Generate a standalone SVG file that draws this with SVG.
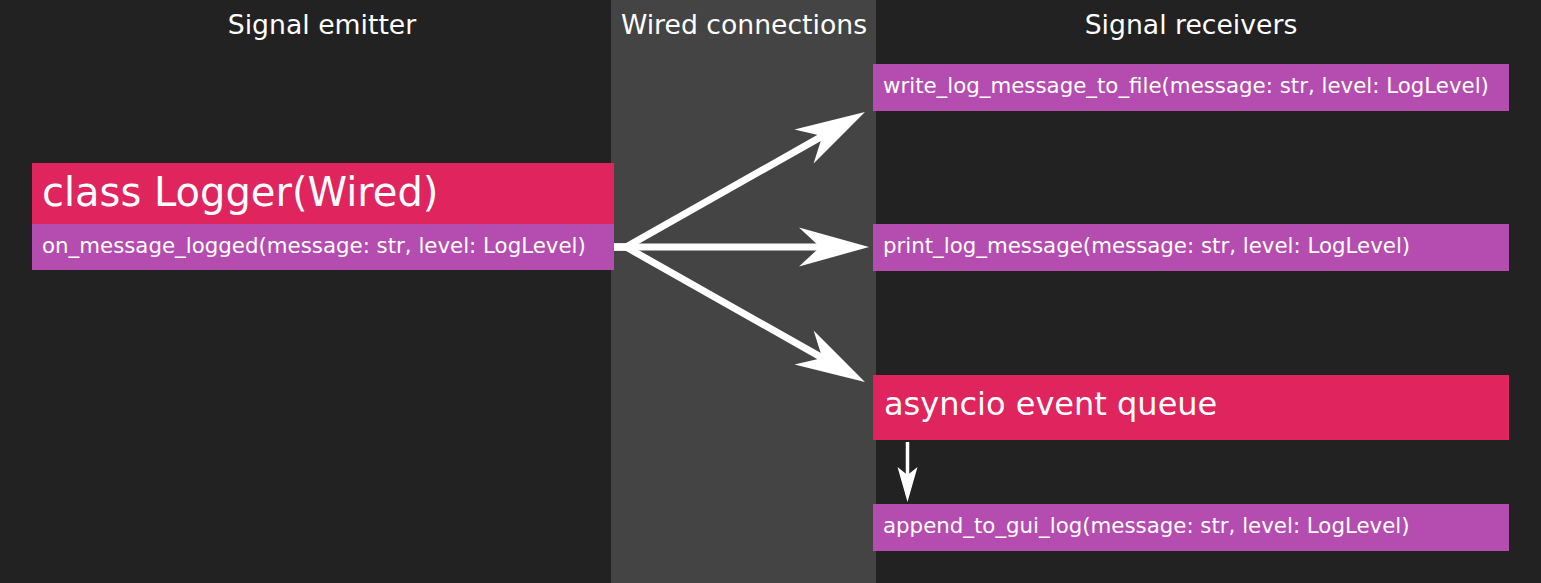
<svg xmlns="http://www.w3.org/2000/svg" width="1541" height="583" viewBox="0 0 1541 583">
  <style>
    text { font-family: "DejaVu Sans", "Liberation Sans", sans-serif; fill: #ffffff; }
    .title { font-size: 26.67px; text-anchor: middle; }
    .method { font-size: 21.33px; }
    .header { fill: #e0245e; }
    .slot { fill: #b54db0; }
    .wire { stroke: #ffffff; fill: none; }
  </style>
  <defs>
    <marker id="big" markerUnits="userSpaceOnUse" orient="auto" refX="0" refY="0" markerWidth="1" markerHeight="1" overflow="visible">
      <path d="M49,0 L-21,-19.5 L0,0 L-21,19.5 Z" fill="#ffffff"/>
    </marker>
    <marker id="small" markerUnits="userSpaceOnUse" orient="auto" refX="0" refY="0" markerWidth="1" markerHeight="1" overflow="visible">
      <path d="M27,0 L-8,-10 L0,0 L-8,10 Z" fill="#ffffff"/>
    </marker>
  </defs>

  <rect x="0" y="0" width="1541" height="583" fill="#222222"/>
  <rect x="611" y="0" width="265" height="583" fill="#444444"/>

  <g id="titles">
    <text class="title" x="322" y="34">Signal emitter</text>
    <text class="title" x="744" y="34">Wired connections</text>
    <text class="title" x="1191" y="34">Signal receivers</text>
  </g>

  <g id="connectors">
    <path class="wire" stroke-width="7" d="M614,247 L626,247 L822.3,136.1" marker-end="url(#big)"/>
    <path class="wire" stroke-width="7" d="M614,247 L626,247 L820,247" marker-end="url(#big)"/>
    <path class="wire" stroke-width="7" d="M614,247 L626,247 L822.3,357.9" marker-end="url(#big)"/>
    <path class="wire" stroke-width="3.5" d="M907.5,442 L907.5,475" marker-end="url(#small)"/>
  </g>

  <g id="logger">
    <rect class="header" x="32" y="163" width="582" height="61"/>
    <text x="42" y="206" font-size="40">class Logger(Wired)</text>
    <rect class="slot" x="32" y="224" width="582" height="46"/>
    <text class="method" x="42" y="253">on_message_logged(message: str, level: LogLevel)</text>
  </g>

  <g id="write_log">
    <rect class="slot" x="873" y="64" width="636" height="47"/>
    <text class="method" x="883" y="93">write_log_message_to_file(message: str, level: LogLevel)</text>
  </g>

  <g id="print_log">
    <rect class="slot" x="873" y="224" width="636" height="47"/>
    <text class="method" x="883" y="253">print_log_message(message: str, level: LogLevel)</text>
  </g>

  <g id="event_queue">
    <rect class="header" x="873" y="375" width="636" height="65"/>
    <text x="884" y="415" font-size="32">asyncio event queue</text>
  </g>

  <g id="gui_log">
    <rect class="slot" x="873" y="504" width="636" height="47"/>
    <text class="method" x="883" y="533">append_to_gui_log(message: str, level: LogLevel)</text>
  </g>
</svg>
